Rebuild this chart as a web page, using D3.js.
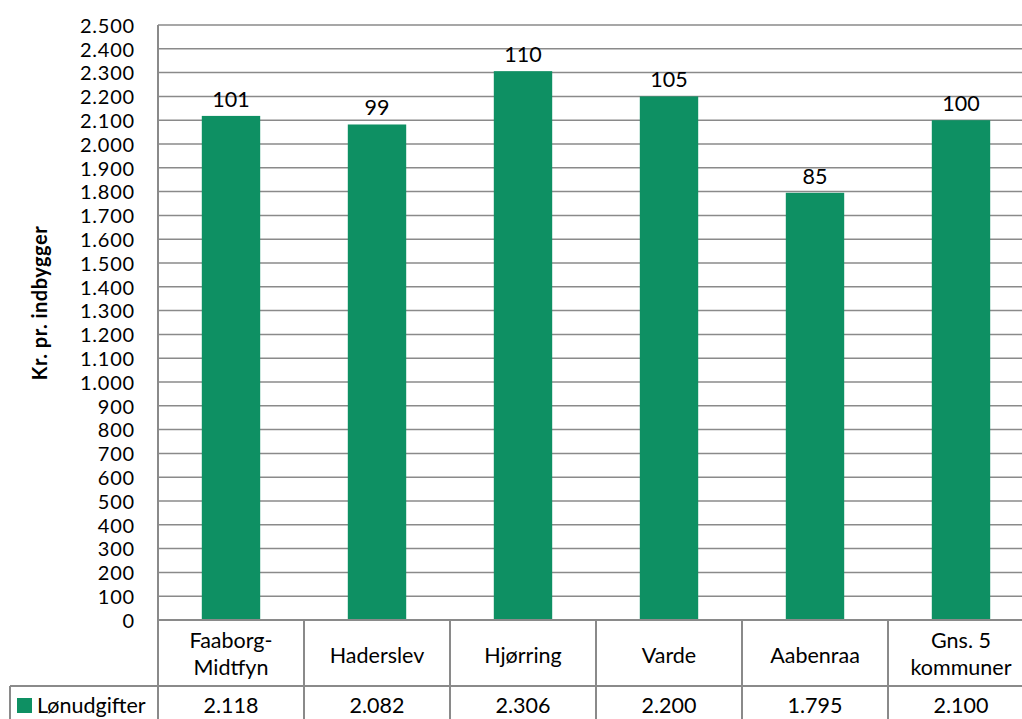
<!DOCTYPE html>
<html>
<head>
<meta charset="utf-8">
<script src="https://cdn.jsdelivr.net/npm/d3@7"></script>
<style>
  html, body { margin: 0; padding: 0; background: #fff; }
  svg { display: block; font-family: Lato, "Open Sans", sans-serif; }
</style>
</head>
<body>
<svg id="chart" width="1022" height="719"></svg>
<script>
// Kommuner (two-line labels for the data table header)
const categories = [
  ["Faaborg-", "Midtfyn"],
  ["Haderslev"],
  ["Hjørring"],
  ["Varde"],
  ["Aabenraa"],
  ["Gns. 5", "kommuner"]
];
// Lønudgifter, kr. pr. indbygger
const seriesName = "Lønudgifter";
const values = [2118, 2082, 2306, 2200, 1795, 2100];
// Index relative to the average of the 5 kommuner (shown above bars)
const indexLabels = ["101", "99", "110", "105", "85", "100"];
const yTicks = d3.range(0, 2501, 100);
const yTitle = "Kr. pr. indbygger";

const green = "#0e9063";
const gridColor = "#8a8a8a";
const fs = 21.5;

const svg = d3.select("#chart");
const plotLeft = 158, plotRight = 1034, plotTop = 25, plotBottom = 620;
const headerBottom = 686, tableBottom = 752, tableLeft = 10;

const loc = d3.formatLocale({ decimal: ",", thousands: ".", grouping: [3], currency: ["", " kr."] });
const fmt = loc.format(",d");

const x = d3.scaleBand().domain(d3.range(categories.length)).range([plotLeft, plotRight]).paddingInner(0).paddingOuter(0);
const y = d3.scaleLinear().domain([0, 2500]).range([plotBottom, plotTop]);
const barW = x.bandwidth() * 0.4;

// Gridlines
svg.append("g").selectAll("line").data(yTicks).join("line")
  .attr("x1", plotLeft).attr("x2", plotRight)
  .attr("y1", d => y(d)).attr("y2", d => y(d))
  .attr("stroke", gridColor).attr("stroke-width", 1.5);

// Y axis labels
const yAxis = d3.axisLeft(y).tickValues(yTicks).tickFormat(fmt).tickSize(0).tickPadding(0);
const gy = svg.append("g").attr("transform", `translate(${plotLeft - 23},0)`).call(yAxis);
gy.select(".domain").remove();
gy.selectAll("text")
  .attr("font-size", 20).attr("letter-spacing", "0.8px")
  .attr("fill", "#000").attr("font-family", "Lato, sans-serif").attr("dy", "0.36em");

// Bars
svg.append("g").selectAll("rect").data(values).join("rect")
  .attr("x", (d, i) => x(i) + (x.bandwidth() - barW) / 2)
  .attr("width", barW)
  .attr("y", d => y(d))
  .attr("height", d => y(0) - y(d))
  .attr("fill", green);

// Index labels above bars
svg.append("g").selectAll("text").data(values).join("text")
  .attr("x", (d, i) => x(i) + x.bandwidth() / 2)
  .attr("y", d => y(d) - 9)
  .attr("text-anchor", "middle")
  .attr("font-size", fs)
  .attr("fill", "#000")
  .text((d, i) => indexLabels[i]);

// Data table lines
const lines = svg.append("g").attr("stroke", gridColor).attr("stroke-width", 2).attr("fill", "none");
lines.append("line").attr("x1", plotLeft).attr("x2", plotRight).attr("y1", plotBottom).attr("y2", plotBottom);
lines.append("line").attr("x1", tableLeft).attr("x2", plotRight).attr("y1", headerBottom).attr("y2", headerBottom);
lines.append("line").attr("x1", tableLeft).attr("x2", tableLeft).attr("y1", headerBottom).attr("y2", tableBottom);
lines.selectAll(".v").data(d3.range(1, categories.length + 1)).join("line")
  .attr("class", "v")
  .attr("x1", i => plotLeft + i * x.bandwidth()).attr("x2", i => plotLeft + i * x.bandwidth())
  .attr("y1", plotBottom).attr("y2", tableBottom);
// Value axis line
lines.append("line").attr("x1", plotLeft).attr("x2", plotLeft).attr("y1", plotTop).attr("y2", tableBottom);

// Header category labels
const hdr = svg.append("g").selectAll("text").data(categories).join("text")
  .attr("text-anchor", "middle")
  .attr("font-size", fs)
  .attr("fill", "#000");
hdr.each(function(lbls, i) {
  const t = d3.select(this);
  const cx = x(i) + x.bandwidth() / 2;
  const startY = lbls.length === 1 ? 663 : 648;
  lbls.forEach((s, k) => {
    t.append("tspan").attr("x", cx).attr("y", startY + k * 26.5).text(s);
  });
});

// Values row
svg.append("g").selectAll("text").data(values).join("text")
  .attr("x", (d, i) => x(i) + x.bandwidth() / 2)
  .attr("y", 713)
  .attr("text-anchor", "middle")
  .attr("font-size", fs)
  .attr("fill", "#000")
  .text(d => fmt(d));

// Legend key in the table
svg.append("rect").attr("x", 17).attr("y", 698).attr("width", 15).attr("height", 15).attr("fill", green);
svg.append("text").attr("x", 37).attr("y", 713).attr("font-size", fs).attr("fill", "#000").text(seriesName);

// Y axis title
svg.append("text")
  .attr("transform", `translate(47,303) rotate(-90)`)
  .attr("text-anchor", "middle")
  .attr("font-size", 20)
  .attr("letter-spacing", "0.5px")
  .attr("font-weight", "bold")
  .attr("fill", "#000")
  .text(yTitle);
</script>
</body>
</html>
